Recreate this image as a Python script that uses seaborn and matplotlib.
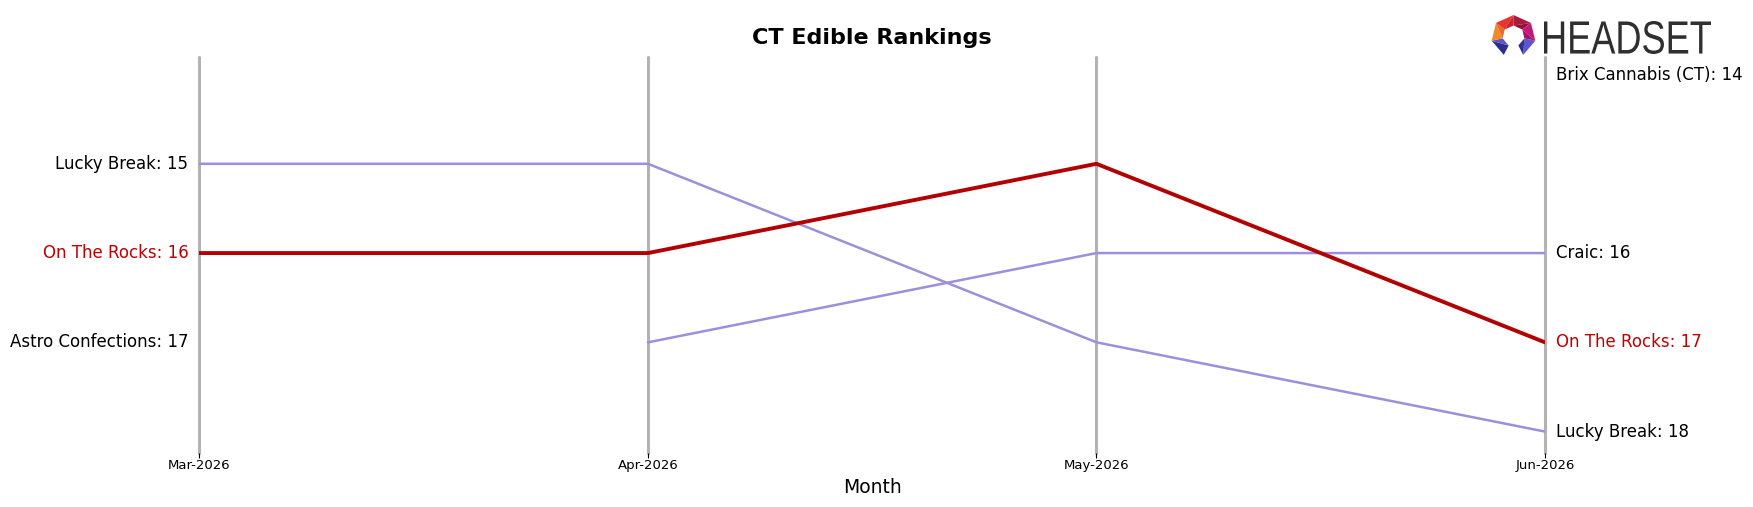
import numpy as np
import pandas as pd
import matplotlib
matplotlib.use("Agg")
import matplotlib.pyplot as plt
from matplotlib.patches import Polygon, PathPatch
from matplotlib.textpath import TextPath
from matplotlib.font_manager import FontProperties
from matplotlib.transforms import Affine2D, IdentityTransform
import seaborn as sns

# data
months = ["Mar-2026", "Apr-2026", "May-2026", "Jun-2026"]
brands = ["Lucky Break", "On The Rocks", "Craic", "Astro Confections", "Brix Cannabis (CT)"]
lucky_break = [15, 15, 17, 18]
on_the_rocks = [16, 16, 15, 17]
craic = [np.nan, 17, 16, 16]
astro_confections = [17, np.nan, np.nan, np.nan]
brix_cannabis = [np.nan, np.nan, np.nan, 14]
highlight = "On The Rocks"

RED = "#B30000"
RED_TXT = "#C00000"
PURPLE = "#9D8FDB"
GRID = "#B3B3B3"

ranks = [lucky_break, on_the_rocks, craic, astro_confections, brix_cannabis]
rows = []
for b, vals in zip(brands, ranks):
    for i, (m, v) in enumerate(zip(months, vals)):
        rows.append({"brand": b, "x": i, "month": m, "rank": v})
df = pd.DataFrame(rows)

sns.set_style("white")
plt.rcParams.update({"text.color": "black", "axes.labelcolor": "black",
                     "xtick.color": "black"})
fig = plt.figure(figsize=(17.53, 5.07), dpi=100)
ax = fig.add_axes([0.1138, 0.1065, 0.7675, 0.7817])

for i in range(len(months)):
    ax.axvline(i, color=GRID, lw=2.2, zorder=0, clip_on=False)

others = df[df.brand != highlight].dropna()
sns.lineplot(data=others, x="x", y="rank", units="brand", estimator=None,
             color=PURPLE, lw=1.8, ax=ax, zorder=2)
sns.lineplot(data=df[df.brand == highlight].dropna(), x="x", y="rank",
             color=RED, lw=2.8, ax=ax, zorder=3)

first = df[df.x == 0].dropna()
last = df[df.x == len(months) - 1].dropna()
for r in first.itertuples():
    c = RED_TXT if r.brand == highlight else "black"
    ax.text(-0.025, r.rank, f"{r.brand}: {int(r.rank)}", ha="right", va="center",
            fontsize=12, color=c)
for r in last.itertuples():
    c = RED_TXT if r.brand == highlight else "black"
    ax.text(len(months) - 1 + 0.025, r.rank, f"{r.brand}: {int(r.rank)}", ha="left",
            va="center", fontsize=12, color=c)

ax.set_xlim(0, len(months) - 1)
ax.set_ylim(18.24, 13.8)
ax.set_xticks(range(len(months)))
ax.set_xticklabels(months, fontsize=9.5)
ax.set_yticks([])
ax.tick_params(axis="x", length=3.5, width=0.8, color="black", pad=0.8, bottom=True)
for s in ax.spines.values():
    s.set_visible(False)
ax.set_xlabel("Month", fontsize=13.5, labelpad=4.5)
ax.set_ylabel("")
ax.set_title("CT Edible Rankings", fontsize=16, fontweight="bold", pad=9)

# logo mark
lax = fig.add_axes([1490 / 1753, 1 - 57 / 507, 47 / 1753, 43 / 507])
lax.set_xlim(-1.05, 1.05)
lax.set_ylim(-1.0, 1.05)
lax.axis("off")
angs = np.deg2rad(90 - np.arange(8) * 360 / 7)
outer = np.c_[np.cos(angs), np.sin(angs)]
inner = 0.5 * outer
cols = [("#B0183F", "#8E1535"), ("#C4187A", "#A01466"), ("#5A55D0", "#2E2E8E"),
        None, ("#2E2E8E", "#5A55D0"), ("#F08A2A", "#E96A24"), ("#E8332F", "#C9202E")]
for k in range(7):
    if cols[k] is None:
        continue
    o1, o2, i1, i2 = outer[k], outer[k + 1], inner[k], inner[k + 1]
    lax.add_patch(Polygon([o1, o2, i1], color=cols[k][0], lw=0))
    lax.add_patch(Polygon([o2, i2, i1], color=cols[k][1], lw=0))

# logo word, squeezed into the reference box (pixels)
tp = TextPath((0, 0), "HEADSET", size=100, prop=FontProperties(family="Liberation Sans"))
ext = tp.get_extents()
sx = 167 / ext.width
sy = 33 / ext.height
tr = Affine2D().translate(-ext.x0, -ext.y0).scale(sx, sy).translate(1544, 507 - 54)
fig.patches.append(PathPatch(tp, transform=tr + IdentityTransform(), color="#2F2F2F",
                             lw=0, figure=fig))

fig.savefig("out.png", dpi=100)
